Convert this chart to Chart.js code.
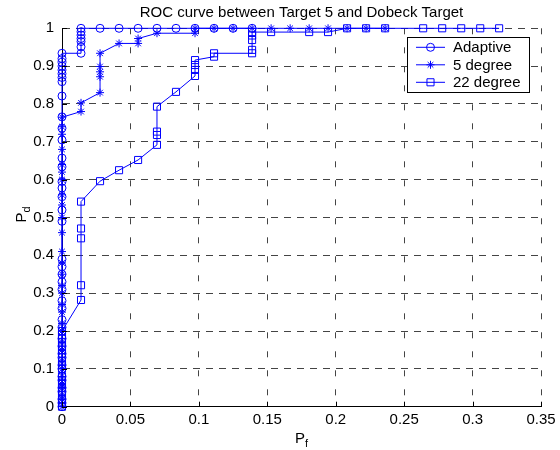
<!DOCTYPE html>
<html>
<head>
<meta charset="utf-8">
<script src="https://cdn.jsdelivr.net/npm/chart.js@4.4.0/dist/chart.umd.min.js"></script>
<style>
  html, body { margin: 0; padding: 0; background: #fff; }
</style>
</head>
<body>
<canvas id="rocChart" width="560" height="450"></canvas>
<script>
// ROC data, Pf steps are 1/72
const titleText = 'ROC curve between Target 5 and Dobeck Target';
const seriesNames = ['Adaptive', '5 degree', '22 degree'];
const xTicksMax = 0.35;
const yTicksMax = 1;

const adaptivePf = [
  0, 0, 0, 0, 0, 0, 0, 0, 0, 0, 0, 0, 0, 0, 0, 0, 0, 0, 0, 0, 0,
  0, 0, 0, 0, 0, 0, 0, 0, 0, 0, 0, 0, 0, 0, 0, 0, 0, 0, 0, 0,
  0.0139, 0.0139, 0.0139, 0.0139, 0.0139, 0.0139, 0.0139,
  0.0278, 0.0417, 0.0556, 0.0694, 0.0833, 0.0972, 0.1111, 0.125, 0.1389
];
const adaptivePd = [
  0, 0.01, 0.02, 0.04, 0.05, 0.07, 0.08, 0.1, 0.11, 0.13, 0.14, 0.16, 0.18, 0.21, 0.23, 0.26, 0.28, 0.31, 0.33, 0.35, 0.37,
  0.39, 0.49, 0.52, 0.555, 0.578, 0.595, 0.634, 0.657, 0.705, 0.736, 0.766, 0.821, 0.859, 0.87, 0.88, 0.89, 0.9, 0.91, 0.92, 0.934,
  0.934, 0.951, 0.965, 0.973, 0.982, 0.991, 1,
  1, 1, 1, 1, 1, 1, 1, 1, 1
];

const deg5Pf = [
  0, 0, 0, 0, 0, 0, 0, 0, 0, 0, 0, 0, 0, 0, 0,
  0, 0, 0, 0, 0, 0, 0, 0, 0, 0, 0, 0, 0, 0, 0,
  0.0139, 0.0139,
  0.0278, 0.0278, 0.0278, 0.0278, 0.0278,
  0.0417, 0.0556, 0.0556, 0.0694, 0.0972, 0.0972,
  0.1111, 0.125, 0.1389, 0.1528, 0.1667, 0.1806, 0.1944, 0.2083, 0.2222, 0.2361
];
const deg5Pd = [
  0, 0.02, 0.03, 0.05, 0.06, 0.08, 0.1, 0.12, 0.15, 0.17, 0.2, 0.22, 0.25, 0.27, 0.3,
  0.32, 0.35, 0.38, 0.41, 0.46, 0.5, 0.533, 0.56, 0.6, 0.62, 0.64, 0.68, 0.72, 0.74, 0.765,
  0.78, 0.803,
  0.83, 0.872, 0.885, 0.899, 0.934,
  0.96, 0.96, 0.973, 0.987, 0.987, 1,
  1, 1, 1, 1, 1, 1, 1, 1, 1, 1
];

const deg22Pf = [
  0, 0, 0, 0, 0, 0, 0, 0, 0, 0, 0, 0, 0, 0, 0, 0, 0, 0, 0,
  0.0139, 0.0139, 0.0139, 0.0139, 0.0139,
  0.0278, 0.0417, 0.0556,
  0.0694, 0.0694, 0.0694, 0.0694,
  0.0833,
  0.0972, 0.0972, 0.0972, 0.0972,
  0.1111, 0.1111,
  0.1389, 0.1389, 0.1389, 0.1389, 0.1389,
  0.1528, 0.1806, 0.1944,
  0.2083, 0.2222, 0.2361, 0.2639, 0.2778, 0.2917, 0.3056, 0.3194
];
const deg22Pd = [
  0, 0.01, 0.02, 0.03, 0.04, 0.05, 0.06, 0.07, 0.08, 0.1, 0.11, 0.12, 0.14, 0.15, 0.16, 0.17, 0.18, 0.19, 0.2,
  0.282, 0.321, 0.445, 0.471, 0.542,
  0.596, 0.625, 0.652,
  0.692, 0.718, 0.727, 0.793,
  0.832,
  0.874, 0.89, 0.903, 0.916,
  0.925, 0.934,
  0.934, 0.943, 0.969, 0.981, 0.99,
  0.99, 0.99, 0.99,
  1, 1, 1, 1, 1, 1, 1, 1
];

const FONT = '"Liberation Sans", Arial, sans-serif';
const markerStyles = ['circle', 'star', 'rect'];
const markerSizes = [4, 4, 5];

function toPoints(xs, ys) {
  return xs.map((v, i) => ({ x: v, y: ys[i] }));
}

function makeSet(i, xs, ys) {
  return {
    label: seriesNames[i],
    data: toPoints(xs, ys),
    showLine: true,
    borderColor: '#0000ff',
    borderWidth: 1,
    backgroundColor: 'rgba(0,0,0,0)',
    pointStyle: markerStyles[i],
    pointRadius: markerSizes[i],
    pointBorderColor: '#0000ff',
    pointBackgroundColor: 'rgba(0,0,0,0)',
    pointBorderWidth: 1,
    clip: false
  };
}

// text with a subscript, left aligned on baseline
function subText(ctx, main, sub, x, y) {
  ctx.font = '15px ' + FONT;
  ctx.fillText(main, x, y);
  const w = ctx.measureText(main).width;
  ctx.font = '11px ' + FONT;
  ctx.fillText(sub, x + w, y + 4);
}
function subWidth(ctx, main, sub) {
  ctx.font = '15px ' + FONT;
  const w = ctx.measureText(main).width;
  ctx.font = '11px ' + FONT;
  return w + ctx.measureText(sub).width;
}

const rocDecor = {
  id: 'rocDecor',
  afterDraw(chart) {
    const { ctx, chartArea: a, scales: { x, y } } = chart;
    ctx.save();

    // inward tick marks
    ctx.strokeStyle = '#000';
    ctx.lineWidth = 1;
    ctx.setLineDash([]);
    ctx.beginPath();
    x.ticks.forEach(t => {
      const px = Math.round(x.getPixelForValue(t.value)) + 0.5;
      ctx.moveTo(px, a.bottom);
      ctx.lineTo(px, a.bottom - 5);
    });
    y.ticks.forEach(t => {
      const py = Math.round(y.getPixelForValue(t.value)) + 0.5;
      ctx.moveTo(a.left, py);
      ctx.lineTo(a.left + 5, py);
    });
    ctx.stroke();

    // title
    ctx.fillStyle = '#000';
    ctx.font = '15px ' + FONT;
    ctx.textAlign = 'center';
    ctx.textBaseline = 'middle';
    ctx.fillText(titleText, (a.left + a.right) / 2, 13);

    // axis labels
    ctx.textAlign = 'left';
    ctx.textBaseline = 'alphabetic';
    const cx = (a.left + a.right) / 2;
    const wx = subWidth(ctx, 'P', 'f');
    subText(ctx, 'P', 'f', cx - wx / 2, a.bottom + 36);

    const cy = (a.top + a.bottom) / 2 - 3;
    const wy = subWidth(ctx, 'P', 'd');
    ctx.save();
    ctx.translate(26, cy + wy / 2);
    ctx.rotate(-Math.PI / 2);
    subText(ctx, 'P', 'd', 0, 0);
    ctx.restore();

    // legend box
    const bx = a.right - 134, by = a.top + 9, bw = 122, bh = 55;
    ctx.fillStyle = '#fff';
    ctx.fillRect(bx, by, bw, bh);
    ctx.strokeStyle = '#000';
    ctx.strokeRect(Math.round(bx) + 0.5, Math.round(by) + 0.5, bw, bh);
    ctx.font = '15px ' + FONT;
    ctx.textBaseline = 'middle';
    chart.data.datasets.forEach((ds, i) => {
      const ry = by + 10 + i * 17.5;
      ctx.strokeStyle = '#0000ff';
      ctx.lineWidth = 1;
      ctx.beginPath();
      ctx.moveTo(bx + 9, ry);
      ctx.lineTo(bx + 38, ry);
      ctx.stroke();
      ctx.fillStyle = 'rgba(0,0,0,0)';
      Chart.helpers.drawPoint(ctx, {
        pointStyle: ds.pointStyle, radius: ds.pointRadius, rotation: 0, borderWidth: 1
      }, bx + 23.5, ry);
      ctx.fillStyle = '#000';
      ctx.fillText(ds.label, bx + 46, ry + 1);
    });

    ctx.restore();
  }
};

const ctx = document.getElementById('rocChart').getContext('2d');
const rocChart = new Chart(ctx, {
  type: 'scatter',
  data: {
    datasets: [
      makeSet(0, adaptivePf, adaptivePd),
      makeSet(1, deg5Pf, deg5Pd),
      makeSet(2, deg22Pf, deg22Pd)
    ]
  },
  options: {
    responsive: false,
    animation: false,
    devicePixelRatio: 1,
    layout: { padding: { top: 28.3, right: 19, left: 0, bottom: 0 } },
    plugins: {
      legend: { display: false },
      tooltip: { enabled: false }
    },
    scales: {
      x: {
        type: 'linear',
        min: 0,
        max: xTicksMax,
        afterFit: s => { s.height = 43.3; },
        ticks: {
          stepSize: 0.05,
          color: '#000',
          padding: 4,
          font: { family: FONT, size: 15 },
          callback: v => String(+v.toFixed(2))
        },
        grid: { color: '#444', lineWidth: 1, drawTicks: false },
        border: { display: true, color: '#000', width: 1, dash: [6, 13] }
      },
      y: {
        type: 'linear',
        min: 0,
        max: yTicksMax,
        afterFit: s => { s.width = 62; },
        ticks: {
          stepSize: 0.1,
          color: '#000',
          padding: 8,
          font: { family: FONT, size: 15 },
          callback: v => String(+v.toFixed(2))
        },
        grid: { color: '#444', lineWidth: 1, drawTicks: false },
        border: { display: true, color: '#000', width: 1, dash: [7, 6] }
      }
    }
  },
  plugins: [rocDecor]
});
</script>
</body>
</html>
